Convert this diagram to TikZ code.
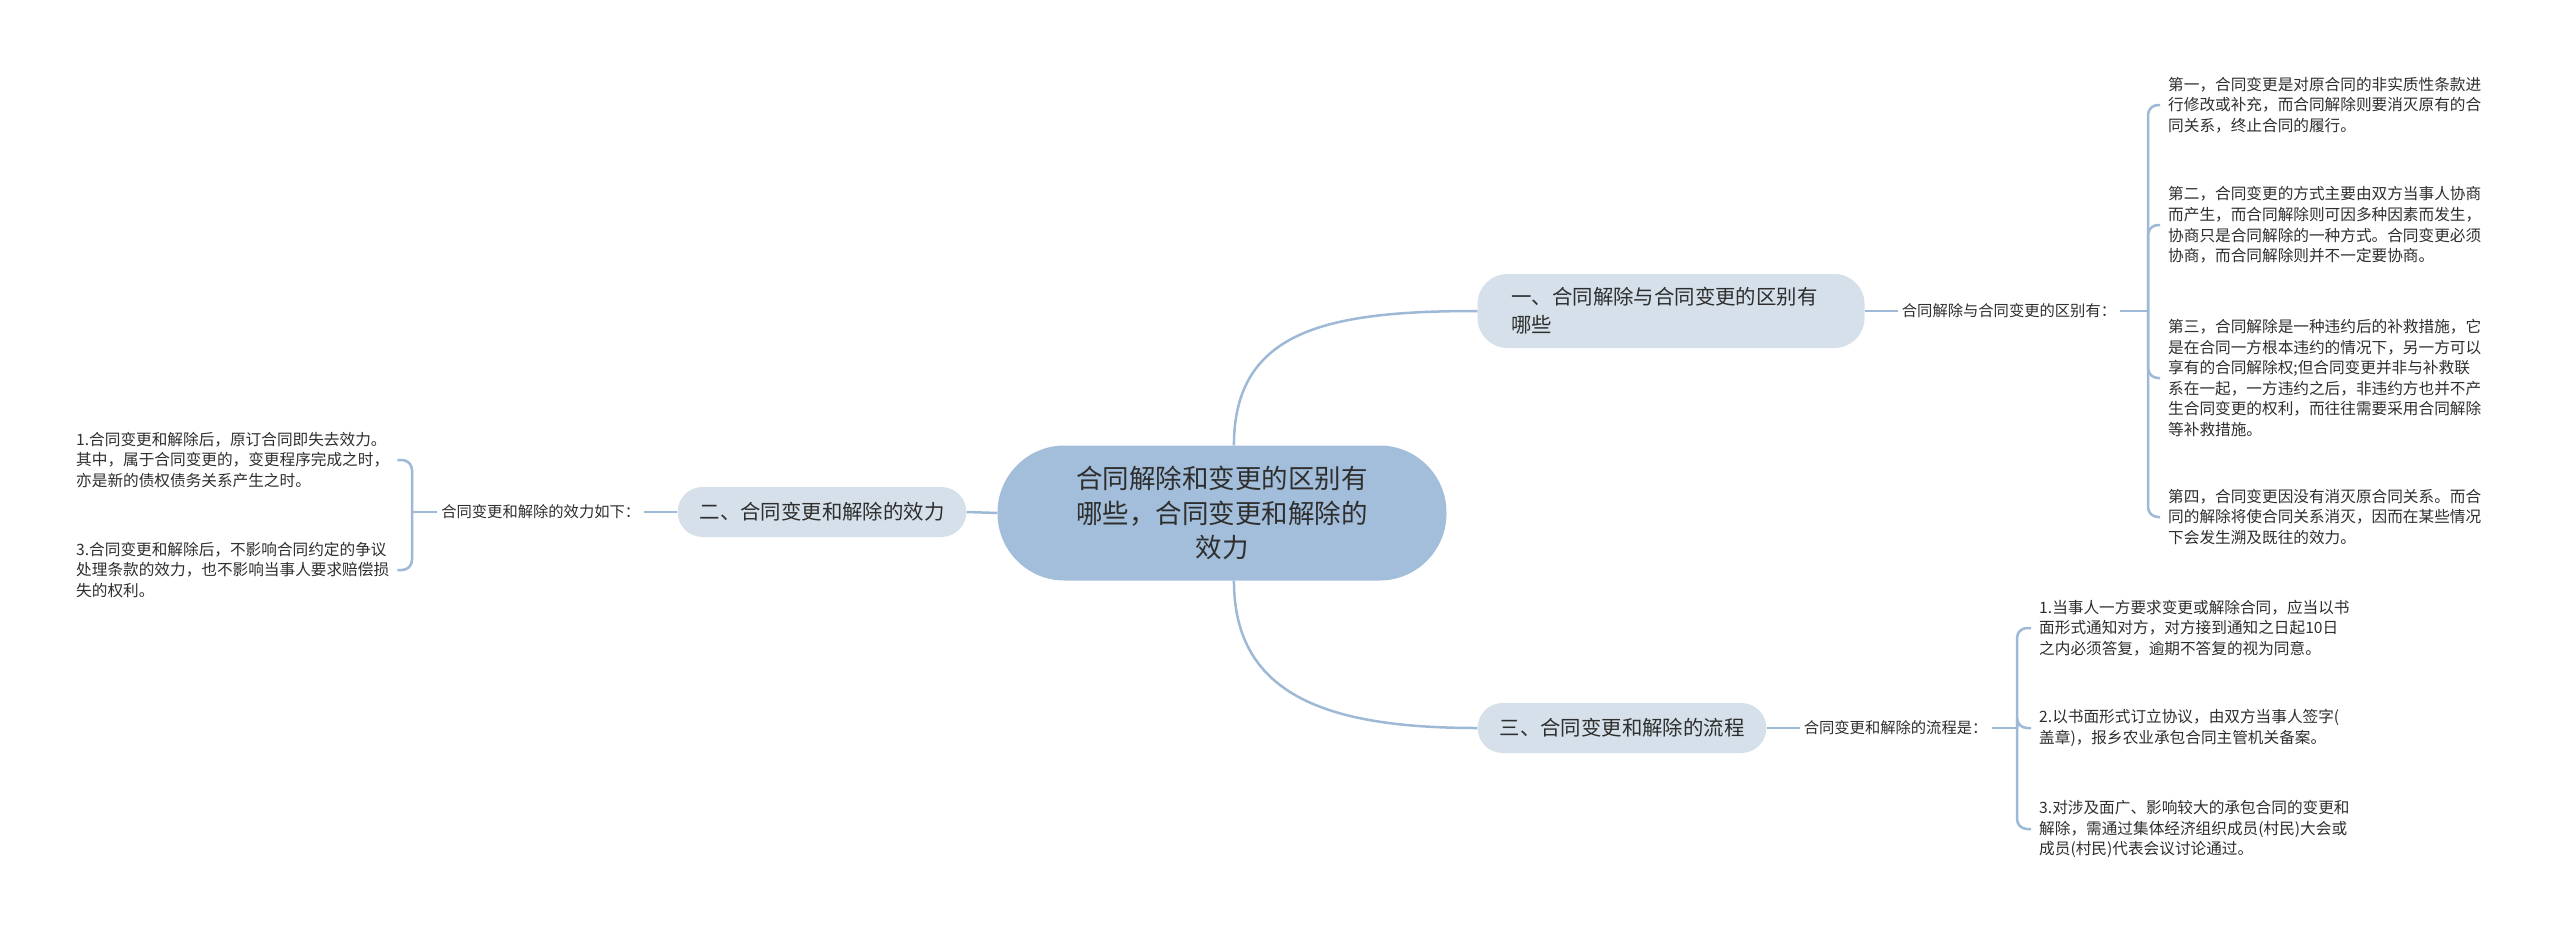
\documentclass[tikz,border=0pt]{standalone}
\usepackage{fontspec}
\setmainfont{Noto Sans CJK SC}
\usepackage{xcolor}
\usepackage{tikz}
\usetikzlibrary{positioning}
\definecolor{rootblue}{HTML}{A3BEDA}
\definecolor{branchblue}{HTML}{D5E0EA}
\definecolor{linkblue}{HTML}{9DB9D5}
\definecolor{textgray}{HTML}{2E2E2E}

\begin{document}
\begin{tikzpicture}[
    x = 1pt,
    y = -1pt,
    text = textgray,
    rootf/.style = {
      rectangle,
      fill=rootblue,
      rounded corners=67pt,
      minimum width=449pt,
      minimum height=135pt,
      align=center,
      inner sep=0pt,
      font=\fontsize{26.5}{34.5}\selectfont
    },
    branchf/.style = {
      rectangle,
      fill=branchblue,
      rounded corners=25pt,
      minimum height=50pt,
      inner xsep=22pt,
      font=\fontsize{20.4}{28}\selectfont
    },
    notef/.style = {
      inner sep=4pt,
      font=\fontsize{15.3}{18}\selectfont
    },
    leaff/.style = {
      anchor=west,
      align=left,
      inner xsep=8pt,
      font=\fontsize{15.65}{20.6}\selectfont
    },
    link/.style = {
      draw=linkblue,
      line width=2.5pt
    }
  ]
    \useasboundingbox (0,0) rectangle (2560,935);

    \node[rootf] (root) at (1222,513) {合同解除和变更的区别有\\哪些，合同变更和解除的\\效力};

    \node[branchf, text width=319pt, align=left, inner xsep=34pt,
          minimum height=74pt, rounded corners=30pt] (b1) at (1671,311)
          {一、合同解除与合同变更的区别有\\哪些};
    \node[branchf] (b2) at (822,512) {二、合同变更和解除的效力};
    \node[branchf] (b3) at (1622,728) {三、合同变更和解除的流程};

    \node[notef] (n1) [right=33pt of b1] {合同解除与合同变更的区别有：};
    \node[notef] (n2) [left=33pt of b2] {合同变更和解除的效力如下：};
    \node[notef] (n3) [right=33pt of b3] {合同变更和解除的流程是：};

    \coordinate (s1) at (2148,311);
    \coordinate (s2) at (412,512);
    \coordinate (s3) at (2017,728);

    \node[leaff] (l11) at (2160,105) {第一，合同变更是对原合同的非实质性条款进\\行修改或补充，而合同解除则要消灭原有的合\\同关系，终止合同的履行。};
    \node[leaff] (l12) at (2160,225) {第二，合同变更的方式主要由双方当事人协商\\而产生，而合同解除则可因多种因素而发生，\\协商只是合同解除的一种方式。合同变更必须\\协商，而合同解除则并不一定要协商。};
    \node[leaff] (l13) at (2160,378) {第三，合同解除是一种违约后的补救措施，它\\是在合同一方根本违约的情况下，另一方可以\\享有的合同解除权;但合同变更并非与补救联\\系在一起，一方违约之后，非违约方也并不产\\生合同变更的权利，而往往需要采用合同解除\\等补救措施。};
    \node[leaff] (l14) at (2160,517) {第四，合同变更因没有消灭原合同关系。而合\\同的解除将使合同关系消灭，因而在某些情况\\下会发生溯及既往的效力。};

    \node[leaff] (l21) at (68,460) {1.合同变更和解除后，原订合同即失去效力。\\其中，属于合同变更的，变更程序完成之时，\\亦是新的债权债务关系产生之时。};
    \node[leaff] (l23) at (68,570) {3.合同变更和解除后，不影响合同约定的争议\\处理条款的效力，也不影响当事人要求赔偿损\\失的权利。};

    \node[leaff] (l31) at (2031,628) {1.当事人一方要求变更或解除合同，应当以书\\面形式通知对方，对方接到通知之日起10日\\之内必须答复，逾期不答复的视为同意。};
    \node[leaff] (l32) at (2031,728) {2.以书面形式订立协议，由双方当事人签字(\\盖章)，报乡农业承包合同主管机关备案。};
    \node[leaff] (l33) at (2031,829) {3.对涉及面广、影响较大的承包合同的变更和\\解除，需通过集体经济组织成员(村民)大会或\\成员(村民)代表会议讨论通过。};

    \draw[link] (root.80) .. controls +(0,-116) and +(-148,0) .. (b1.west);
    \draw[link] (root.-80) .. controls +(0,116) and +(-148,0) .. (b3.west);
    \draw[link] (root.west) -- (b2.east);

    \draw[link] (b1) -- (n1);
    \draw[link] (b2) -- (n2);
    \draw[link] (b3) -- (n3);
    \draw[link] (n1) -- (s1);
    \draw[link] (n2) -- (s2);
    \draw[link] (n3) -- (s3);

    \foreach \leaf in {l11,l12,l13,l14}
      \draw[link, rounded corners=10pt] (s1) |- (\leaf.west);
    \foreach \leaf in {l21,l23}
      \draw[link, rounded corners=10pt] (s2) |- (\leaf.east);
    \foreach \leaf in {l31,l32,l33}
      \draw[link, rounded corners=10pt] (s3) |- (\leaf.west);

  \end{tikzpicture}
\end{document}
